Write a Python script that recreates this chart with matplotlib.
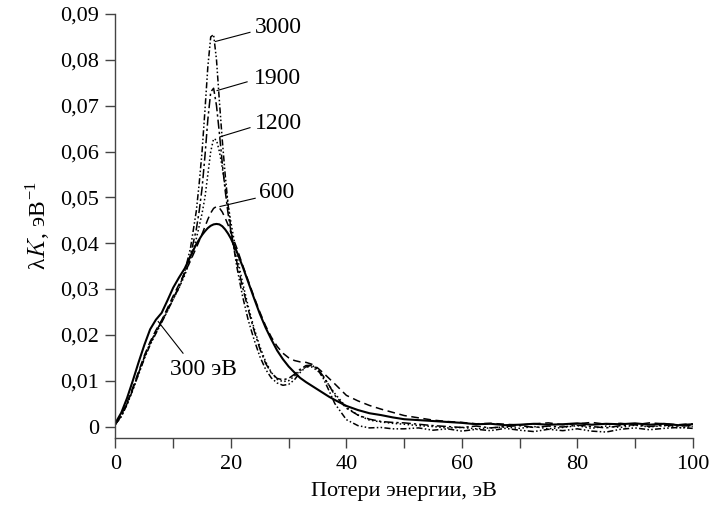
import matplotlib
matplotlib.use("Agg")
import matplotlib.pyplot as plt
from matplotlib.ticker import MultipleLocator, FuncFormatter

plt.rcParams['font.family'] = ['Liberation Serif', 'DejaVu Serif']
plt.rcParams['mathtext.fontset'] = 'cm'

# energy loss grid, eV
energy = [0, 1, 2, 3, 4, 5, 6, 7, 8, 9, 10, 11, 12, 13, 14,
          14.5, 15, 15.5, 16, 16.5, 17, 17.5, 18, 18.5, 19, 19.5, 20,
          21, 22, 23, 24, 25, 26, 27, 28, 29, 30, 31, 32, 33, 34, 35, 36, 37, 38,
          40, 42, 44, 46, 48,
          50, 52.5, 55, 57.5, 60, 62.5, 65, 67.5, 70, 72.5, 75, 77.5, 80,
          82.5, 85, 87.5, 90, 92.5, 95, 97.5, 100]

k_300 = [0.0008, 0.0030, 0.0062, 0.0100, 0.0140, 0.0178, 0.0212, 0.0233, 0.0248, 0.0275,
         0.0303, 0.0325, 0.0345, 0.0372, 0.0398,
         0.0408, 0.0418, 0.0426, 0.0433, 0.0438, 0.0441, 0.0442, 0.0441, 0.0437, 0.0430, 0.0421, 0.0410,
         0.0382, 0.0350, 0.0315, 0.0280, 0.0246, 0.0216, 0.0190, 0.0166, 0.0147, 0.0131,
         0.0118, 0.0106, 0.0097, 0.0089, 0.0081, 0.0073, 0.0065, 0.0058,
         0.0045, 0.0036, 0.0029, 0.0025, 0.0020,
         0.0016, 0.0014, 0.0012, 0.0010, 0.0008, 0.0005, 0.0006, 0.0003, 0.0004, 0.0006, 0.0004,
         0.0005, 0.0007, 0.0004, 0.0006, 0.0005, 0.0007, 0.0004, 0.0006, 0.0003, 0.0005]

k_600 = [0.0006, 0.0025, 0.0052, 0.0085, 0.0120, 0.0155, 0.0185, 0.0210, 0.0232, 0.0258,
         0.0285, 0.0310, 0.0335, 0.0362, 0.0390,
         0.0405, 0.0420, 0.0436, 0.0452, 0.0466, 0.0476, 0.0480, 0.0477, 0.0468, 0.0455, 0.0440, 0.0423,
         0.0390, 0.0353, 0.0318, 0.0283, 0.0250, 0.0220, 0.0195, 0.0175, 0.0160, 0.0150,
         0.0144, 0.0141, 0.0140, 0.0136, 0.0128, 0.0117, 0.0105, 0.0093,
         0.0068, 0.0056, 0.0046, 0.0038, 0.0031,
         0.0024, 0.0019, 0.0014, 0.0011, 0.0009, 0.0006, 0.0007, 0.0005, 0.0003, 0.0006, 0.0008,
         0.0004, 0.0006, 0.0009, 0.0005, 0.0007, 0.0004, 0.0008, 0.0006, 0.0004, 0.0006]

k_1200 = [0.0005, 0.0022, 0.0048, 0.0080, 0.0115, 0.0150, 0.0180, 0.0205, 0.0228, 0.0252,
          0.0278, 0.0302, 0.0330, 0.0365, 0.0410,
          0.0437, 0.0465, 0.0500, 0.0550, 0.0600, 0.0628, 0.0625, 0.0600, 0.0565, 0.0525, 0.0485, 0.0445,
          0.0375, 0.0315, 0.0262, 0.0215, 0.0175, 0.0142, 0.0118, 0.0103, 0.0098, 0.0100,
          0.0110, 0.0122, 0.0130, 0.0130, 0.0122, 0.0108, 0.0090, 0.0072,
          0.0042, 0.0025, 0.0014, 0.0010, 0.0007,
          0.0005, 0.0002, 0.0000, -0.0003, -0.0002, -0.0005, -0.0003, -0.0001, -0.0004, 0.0000, -0.0005,
          -0.0002, 0.0002, -0.0004, 0.0001, -0.0002, 0.0003, -0.0001, 0.0002, -0.0003, 0.0000]

k_1900 = [0.0005, 0.0023, 0.0050, 0.0082, 0.0117, 0.0152, 0.0182, 0.0207, 0.0230, 0.0255,
          0.0280, 0.0305, 0.0335, 0.0375, 0.0430,
          0.0470, 0.0520, 0.0590, 0.0670, 0.0730, 0.0738, 0.0700, 0.0640, 0.0575, 0.0515, 0.0465, 0.0425,
          0.0360, 0.0305, 0.0255, 0.0210, 0.0170, 0.0138, 0.0117, 0.0105, 0.0102, 0.0105,
          0.0114, 0.0125, 0.0133, 0.0134, 0.0126, 0.0110, 0.0090, 0.0068,
          0.0040, 0.0025, 0.0016, 0.0011, 0.0009,
          0.0008, 0.0005, 0.0002, 0.0000, -0.0002, 0.0001, -0.0003, 0.0000, 0.0002, -0.0002, 0.0001,
          -0.0001, 0.0003, 0.0000, -0.0003, 0.0002, 0.0004, 0.0000, 0.0003, 0.0001, 0.0002]

k_3000 = [0.0005, 0.0022, 0.0048, 0.0080, 0.0114, 0.0148, 0.0178, 0.0203, 0.0227, 0.0252,
          0.0278, 0.0303, 0.0338, 0.0390, 0.0470,
          0.0530, 0.0600, 0.0690, 0.0785, 0.0850, 0.0855, 0.0800, 0.0710, 0.0625, 0.0550, 0.0485, 0.0430,
          0.0350, 0.0285, 0.0232, 0.0190, 0.0153, 0.0125, 0.0106, 0.0095, 0.0090, 0.0092,
          0.0102, 0.0118, 0.0130, 0.0134, 0.0125, 0.0105, 0.0078, 0.0050,
          0.0015, 0.0002, -0.0003, -0.0002, -0.0005,
          -0.0005, -0.0003, -0.0008, -0.0005, -0.0010, -0.0006, -0.0009, -0.0004, -0.0008, -0.0011, -0.0006,
          -0.0009, -0.0005, -0.0010, -0.0012, -0.0006, -0.0003, -0.0007, -0.0004, -0.0002, -0.0004]

# curve labels: text, (line start), (line end), (text position)
labels = ["3000", "1900", "1200", "600", "300 эВ"]
label_tips = [(17.3, 0.0840), (17.6, 0.0733), (18.1, 0.0632), (18.1, 0.0480), (7.4, 0.0229)]
label_ends = [(23.3, 0.0860), (22.8, 0.0752), (23.3, 0.0652), (24.2, 0.0498), (11.7, 0.0160)]
label_text = [(24.2, 0.0870), (23.9, 0.0760), (24.2, 0.0662), (24.9, 0.0510), (9.4, 0.0124)]

fig = plt.figure(figsize=(7.12, 5.09), dpi=100)
ax = fig.add_axes((0.1622, 0.1395, 0.8107, 0.8330))

ax.plot(energy, k_3000, color="k", lw=1.1, ls=(0, (4, 1.5, 1, 1.5, 1, 1.5)))
ax.plot(energy, k_1900, color="k", lw=1.1, ls=(0, (6, 2, 1.5, 2)))
ax.plot(energy, k_1200, color="k", lw=1.1, ls=(0, (1, 1.6)))
ax.plot(energy, k_600, color="k", lw=1.1, ls=(0, (5, 3)))
ax.plot(energy, k_300, color="k", lw=1.5, ls="-")

for text, tip, end, pos in zip(labels, label_tips, label_ends, label_text):
    ax.plot([tip[0], end[0]], [tip[1], end[1]], color="k", lw=0.8)
    ax.text(pos[0], pos[1], text, fontsize=17, ha="left", va="center")

ax.set_xlim(0, 100)
ax.set_ylim(-0.0025, 0.09)
ax.xaxis.set_major_locator(MultipleLocator(20))
ax.xaxis.set_minor_locator(MultipleLocator(10))
ax.yaxis.set_major_locator(MultipleLocator(0.01))
ax.yaxis.set_major_formatter(FuncFormatter(
    lambda v, p: "0" if abs(v) < 1e-9 else ("%.2f" % v).replace(".", ",")))

for side in ("top", "right"):
    ax.spines[side].set_visible(False)
for side in ("left", "bottom"):
    ax.spines[side].set_color("#444444")
    ax.spines[side].set_linewidth(1.0)

ax.tick_params(axis="both", which="both", direction="out", color="#444444",
               labelsize=16, width=1.0)
ax.tick_params(axis="x", which="both", length=7, pad=5)
ax.tick_params(axis="y", which="major", length=7, pad=5)

ax.set_xlabel("Потери энергии, эВ", fontsize=16, labelpad=6)
ax.set_ylabel(r"λ$K$, эВ$^{\mathregular{-1}}$", fontsize=17, labelpad=6)

fig.savefig("out.png", dpi=100)
plt.close(fig)
